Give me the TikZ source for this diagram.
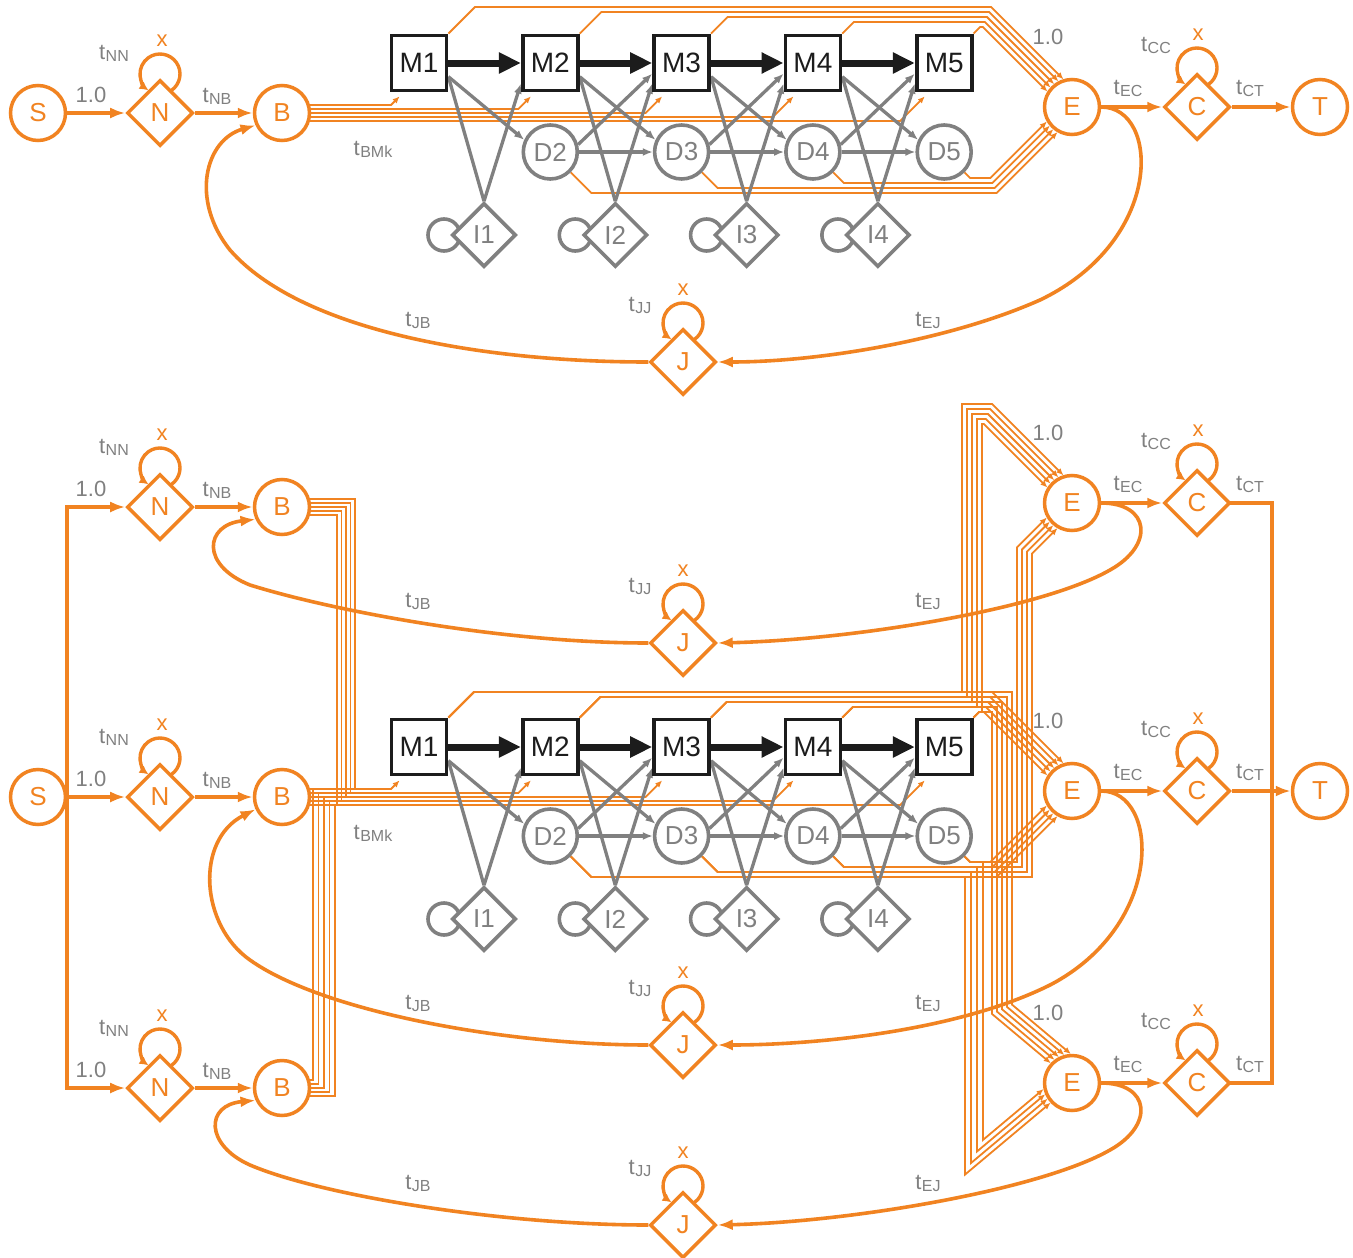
\documentclass[tikz,border=0pt]{standalone}
\usepackage{fontspec}
\setmainfont{Liberation Sans}
\usetikzlibrary{shapes.geometric,arrows.meta,calc}

\definecolor{orng}{RGB}{241,131,33}
\definecolor{gry}{RGB}{128,128,128}
\definecolor{lblgry}{RGB}{128,128,128}
\definecolor{inkblk}{RGB}{28,28,28}

\pgfdeclarelayer{bg}
\pgfdeclarelayer{bundles}
\pgfdeclarelayer{curves}
\pgfdeclarelayer{edges}
\pgfsetlayers{bg,bundles,curves,edges,main}

\newcommand\fs[1]{\fontsize{#1}{#1}\selectfont}
\newcommand\tlab[1]{t\kern0.4pt\raisebox{-2pt}{\fs{16}#1}}
\newcommand\bR{29}

\tikzset{
  x=1pt, y=-1pt,
  onode/.style={draw=orng, line width=3.5pt, fill=white, text=orng, font=\fs{26}, inner sep=0pt, outer sep=1.75pt},
  ocirc/.style={onode, circle, minimum size=55pt},
  odiam/.style={onode, diamond, aspect=1, minimum size=66pt},
  gcirc/.style={circle, draw=gry, line width=3.6pt, fill=white, text=gry, font=\fs{26}, minimum size=54pt, inner sep=0pt, outer sep=1.8pt},
  gdiam/.style={diamond, aspect=1, draw=gry, line width=3.6pt, fill=white, text=gry, font=\fs{26}, minimum size=64pt, inner sep=0pt, outer sep=1.8pt},
  mbox/.style={rectangle, draw=inkblk, line width=3.8pt, fill=white, text=inkblk, font=\fs{28}, minimum size=55pt, inner sep=0pt, outer sep=1.9pt},
  lbl/.style={text=lblgry, font=\fs{22}, inner sep=0pt},
  xlbl/.style={text=orng, font=\fs{22}, inner sep=0pt},
  oarrow/.style={draw=orng, line width=3.4pt, -{Latex[length=15pt,width=11pt]}},
  oline/.style={draw=orng, line width=3.4pt, line cap=rect, line join=miter},
  ocurve/.style={draw=orng, line width=3.6pt, -{Latex[length=15pt,width=11pt]}},
  oloop/.style={draw=orng, line width=3.4pt, -{Latex[length=9pt,width=9pt]}},
  gedge/.style={draw=gry, line width=3.3pt, -{Latex[length=10pt,width=8pt]}},
  gplain/.style={draw=gry, line width=3.3pt},
  gloop/.style={draw=gry, line width=3.6pt},
  barrow/.style={draw=inkblk, line width=7pt, -{Triangle[length=22pt,width=20pt]}},
  thinb/.style={draw=orng, line width=1.8pt, line join=miter},
  thinba/.style={thinb, -{Latex[length=7pt,width=6pt]}},
}

% parallel line of a bundle: aim x, aim y, centre x, centre y, angle, offset
% gives the line point \bPx,\bPy, direction \bdx,\bdy and the entry point \bQx,\bQy (relative to the centre)
\newcommand\bundlecalc[6]{%
  \pgfmathsetmacro\bdx{cos(#5)}%
  \pgfmathsetmacro\bdy{sin(#5)}%
  \pgfmathsetmacro\bPx{(#1)+(\bdy)*(#6)}%
  \pgfmathsetmacro\bPy{(#2)-(\bdx)*(#6)}%
  \pgfmathsetmacro\bwx{(\bPx)-(#3)}%
  \pgfmathsetmacro\bwy{(\bPy)-(#4)}%
  \pgfmathsetmacro\bwd{(\bwx)*(\bdx)+(\bwy)*(\bdy)}%
  \pgfmathsetmacro\bt{0-(\bwd)-sqrt((\bwd)*(\bwd)-(\bwx)*(\bwx)-(\bwy)*(\bwy)+\bR*\bR)}%
  \pgfmathsetmacro\bQx{(\bwx)+(\bt)*(\bdx)}%
  \pgfmathsetmacro\bQy{(\bwy)+(\bt)*(\bdy)}%
}

% machines, dependent and idle states of one production line
\newcommand\procblock[2]{%
  \foreach \kk/\xx in {1/419,2/550.3,3/681.6,4/812.9,5/944.2}
    {\node[mbox] (#1M\kk) at (\xx,#2) {M\kk};}
  \foreach \kk/\xx in {2/550.3,3/681.6,4/812.9,5/944.2}
    {\node[gcirc] (#1D\kk) at (\xx,{#2+89}) {D\kk};}
  \foreach \kk/\xx in {1/484,2/615.3,3/746.6,4/877.9}
    {\node[gdiam] (#1I\kk) at (\xx,{#2+172}) {I\kk};}
  \begin{pgfonlayer}{edges}
    \foreach \kk in {1,...,4} {
      \pgfmathtruncatemacro\knext{\kk+1}
      \draw[barrow] (#1M\kk.east) -- (#1M\knext.west);
      \draw[gedge] (#1M\kk.-25) -- (#1D\knext.155);
      \draw[gplain] (#1M\kk.-25) -- (#1I\kk.north);
      \draw[gedge] (#1I\kk.north) -- (#1M\knext.215);
      \draw[gloop] ($(#1I\kk)+(-40,0)$) circle[radius=16];
    }
    \foreach \kk in {2,3,4} {
      \pgfmathtruncatemacro\knext{\kk+1}
      \draw[gedge] (#1D\kk.15) -- (#1M\knext.200);
      \draw[gedge] (#1D\kk.east) -- (#1D\knext.west);
    }
  \end{pgfonlayer}
}

% start, end and junction states with their labels
\newcommand\sidechain[4]{%
  \node[odiam] (#1N) at (160,#2) {N};
  \node[ocirc] (#1B) at (282,#2) {B};
  \node[ocirc] (#1E) at (1072,#3) {E};
  \node[odiam] (#1C) at (1197,#3) {C};
  \node[odiam] (#1J) at (683,#4) {J};
  \node[lbl] (#1lnn) at (114,{#2-60}) {\tlab{NN}};
  \node[xlbl] (#1xn) at (162,{#2-72}) {x};
  \node[lbl] (#1lsn) at (91,{#2-18}) {1.0};
  \node[lbl] (#1lnb) at (217,{#2-17}) {\tlab{NB}};
  \node[lbl] (#1lme) at (1048,{#3-70}) {1.0};
  \node[lbl] (#1lcc) at (1156,{#3-62}) {\tlab{CC}};
  \node[xlbl] (#1xc) at (1198,{#3-72}) {x};
  \node[lbl] (#1lec) at (1128,{#3-19}) {\tlab{EC}};
  \node[lbl] (#1lct) at (1250,{#3-19}) {\tlab{CT}};
  \node[lbl] (#1ljj) at (640,{#4-57}) {\tlab{JJ}};
  \node[xlbl] (#1xj) at (683,{#4-72}) {x};
  \node[lbl] (#1ljb) at (418,{#4-42}) {\tlab{JB}};
  \node[lbl] (#1lej) at (928,{#4-42}) {\tlab{EJ}};
  \begin{pgfonlayer}{edges}
    \draw[oarrow] (#1N) -- (#1B);
    \draw[oarrow] (#1E) -- (#1C);
    \foreach \nd in {#1N,#1C,#1J} {
      \draw[oloop] ($(\nd)+({20*cos(55)},{-39+20*sin(55)})$) arc[start angle=55,end angle=-235,radius=20];
    }
  \end{pgfonlayer}
}

% B -> Mk feeders
\newcommand\bmlines[2]{%
  \foreach \kk in {0,...,4} {
    \pgfmathtruncatemacro\mm{\kk+1}
    \pgfmathsetmacro\dd{8.6+4*\kk}
    \coordinate (bmc) at ($(#1M\mm.south west)+({10-\dd},{4+\dd})$);
    \draw[thinba] (bmc -| #2) -- (bmc) -- ($(#1M\mm.south west)+(10,4)$);
  }
}

% Mk -> E, straight across the top
\newcommand\mtoE[6]{%
  \foreach \kk in {0,...,4} {
    \pgfmathtruncatemacro\mm{\kk+1}
    \pgfmathsetmacro\oo{(2-\kk)*5}
    \pgfmathsetmacro\hh{#5+5*\kk}
    \pgfmathsetmacro\qa{#6-\hh}
    \bundlecalc{#3+5}{#4}{#3}{#4}{45}{\oo}
    \pgfmathsetmacro\cx{(\bPx)+((\hh)-(\bPy))/(\bdy)*(\bdx)}
    \draw[thinba] (#1M\mm.north east) -- ++(\qa,-\qa) -- (\cx,\hh) -- ($(#2)+(\bQx,\bQy)$);
  }
}

% Dk -> E, straight along the bottom
\newcommand\dtoE[6]{%
  \foreach \kk in {0,...,3} {
    \pgfmathtruncatemacro\mm{\kk+2}
    \pgfmathsetmacro\oo{-7.5+5*\kk}
    \pgfmathsetmacro\hh{#5-5*\kk}
    \pgfmathsetmacro\qb{\hh-#6}
    \bundlecalc{#3}{#4}{#3}{#4}{-45}{\oo}
    \pgfmathsetmacro\cx{(\bPx)+((\hh)-(\bPy))/(\bdy)*(\bdx)}
    \draw[thinba] (#1D\mm.-45) -- ++(\qb,\qb) -- (\cx,\hh) -- ($(#2)+(\bQx,\bQy)$);
  }
}

\begin{document}
\begin{tikzpicture}
\begin{pgfonlayer}{bg}
  \fill[white] (0,0) rectangle (1353,1258);
\end{pgfonlayer}
\useasboundingbox (0,0) rectangle (1353,1258);

% ---------- single line ----------
\node[ocirc] (tS) at (38,113) {S};
\sidechain{t}{113}{107}{362}
\node[ocirc] (tT) at (1320,107) {T};
\procblock{t}{63}
\node[lbl] (tbmk) at (373,149) {\tlab{BMk}};

% ---------- three coupled lines ----------
\node[ocirc] (bS) at (38,797) {S};
\sidechain{r1}{507}{503}{643}
\sidechain{r2}{797}{791}{1045}
\sidechain{r3}{1088}{1083}{1225}
\node[ocirc] (bT) at (1320,791) {T};
\procblock{b}{747}
\node[lbl] (bbmk) at (373,833) {\tlab{BMk}};

\coordinate (sv1) at (67,507);
\coordinate (sv3) at (67,1088);
\coordinate (tv1) at (1272,503);
\coordinate (tv3) at (1272,1083);

\begin{pgfonlayer}{edges}
  \draw[oarrow] (tS) -- (tN);
  \draw[oarrow] (tC) -- (tT);
  \draw[oline] (sv1) -- (sv3);
  \draw[oarrow] (sv1) -- (r1N);
  \draw[oarrow] (bS) -- (r2N);
  \draw[oarrow] (sv3) -- (r3N);
  \draw[oline] (r1C) -- (tv1) -- (tv3) -- (r3C);
  \draw[oarrow] (r2C) -- (bT);
\end{pgfonlayer}

\begin{pgfonlayer}{curves}
  \draw[ocurve] (tE.east) .. controls (1160,107) and (1165,240) .. (1040,300)
                .. controls (950,340) and (820,362) .. (tJ.east);
  \draw[ocurve] (tJ.west) .. controls (480,362) and (300,330) .. (230,250)
                .. controls (190,200) and (205,140) .. (tB.205);
  \draw[ocurve] (r1E.east) .. controls (1150,503) and (1155,545) .. (1110,570)
                .. controls (1040,610) and (850,640) .. (r1J.east);
  \draw[ocurve] (r1J.west) .. controls (500,643) and (330,610) .. (250,585)
                .. controls (200,565) and (205,525) .. (r1B.205);
  \draw[ocurve] (r2E.east) .. controls (1160,791) and (1165,925) .. (1050,985)
                .. controls (960,1030) and (820,1045) .. (r2J.east);
  \draw[ocurve] (r2J.west) .. controls (500,1045) and (320,1010) .. (250,960)
                .. controls (200,925) and (195,840) .. (r2B.205);
  \draw[ocurve] (r3E.east) .. controls (1150,1083) and (1155,1125) .. (1110,1150)
                .. controls (1040,1190) and (850,1222) .. (r3J.east);
  \draw[ocurve] (r3J.west) .. controls (500,1225) and (320,1195) .. (250,1165)
                .. controls (205,1145) and (205,1105) .. (r3B.205);
\end{pgfonlayer}

\begin{pgfonlayer}{bundles}
  \bmlines{t}{tB}
  \mtoE{t}{tE}{1072}{107}{7}{33.6}
  \dtoE{t}{tE}{1072}{107}{193}{172.3}
  \bmlines{b}{r2B}
  \mtoE{b}{r2E}{1072}{791}{692}{717.6}
  \dtoE{b}{r2E}{1072}{791}{877}{856.3}
  % feeders from the upper and lower B
  \foreach \kk in {0,...,4} {
    \pgfmathsetmacro\yo{-8+4*\kk}
    \pgfmathsetmacro\xa{355-4.5*\kk}
    \pgfmathsetmacro\ya{499+4*\kk}
    \pgfmathsetmacro\yb{789+4*\kk}
    \pgfmathsetmacro\xc{313+5.5*\kk}
    \pgfmathsetmacro\yc{1080+4*\kk}
    \draw[thinb] ($(r1B)+(0,\yo)$) -- (\xa,\ya) -- (\xa,\yb) -- (365,\yb);
    \draw[thinb] ($(r3B)+(0,\yo)$) -- (\xc,\yc) -- (\xc,\yb) -- (365,\yb);
  }
  % Mk -> upper E
  \foreach \kk in {0,...,4} {
    \pgfmathtruncatemacro\mm{\kk+1}
    \pgfmathsetmacro\oo{(2-\kk)*5}
    \pgfmathsetmacro\hh{692+5*\kk}
    \pgfmathsetmacro\qa{717.6-\hh}
    \pgfmathsetmacro\vv{962+5*\kk}
    \pgfmathsetmacro\hu{404+5*\kk}
    \bundlecalc{1077}{503}{1072}{503}{45}{\oo}
    \pgfmathsetmacro\cx{(\bPx)+((\hu)-(\bPy))/(\bdy)*(\bdx)}
    \draw[thinba] (bM\mm.north east) -- ++(\qa,-\qa) -- (\vv,\hh) -- (\vv,\hu) -- (\cx,\hu) -- ($(r1E)+(\bQx,\bQy)$);
  }
  % Mk -> lower E
  \foreach \kk in {0,...,4} {
    \pgfmathtruncatemacro\mm{\kk+1}
    \pgfmathsetmacro\oo{(2-\kk)*5}
    \pgfmathsetmacro\hh{692+5*\kk}
    \pgfmathsetmacro\qa{717.6-\hh}
    \pgfmathsetmacro\vv{1012-5*\kk}
    \bundlecalc{1072}{1068}{1072}{1083}{40}{\oo}
    \pgfmathsetmacro\cy{(\bPy)+((\vv)-(\bPx))/(\bdx)*(\bdy)}
    \draw[thinba] (bM\mm.north east) -- ++(\qa,-\qa) -- (\vv,\hh) -- (\vv,\cy) -- ($(r3E)+(\bQx,\bQy)$);
  }
  % Dk -> upper E
  \foreach \kk in {0,...,3} {
    \pgfmathtruncatemacro\mm{\kk+2}
    \pgfmathsetmacro\oo{-7.5+5*\kk}
    \pgfmathsetmacro\hh{877-5*\kk}
    \pgfmathsetmacro\qb{\hh-856.3}
    \pgfmathsetmacro\vv{1032-5*\kk}
    \bundlecalc{1072}{503}{1072}{503}{-45}{\oo}
    \pgfmathsetmacro\cy{(\bPy)+((\vv)-(\bPx))/(\bdx)*(\bdy)}
    \draw[thinba] (bD\mm.-45) -- ++(\qb,\qb) -- (\vv,\hh) -- (\vv,\cy) -- ($(r1E)+(\bQx,\bQy)$);
  }
  % Dk -> lower E
  \foreach \kk in {0,...,3} {
    \pgfmathtruncatemacro\mm{\kk+2}
    \pgfmathsetmacro\oo{-7.5+5*\kk}
    \pgfmathsetmacro\hh{877-5*\kk}
    \pgfmathsetmacro\qb{\hh-856.3}
    \pgfmathsetmacro\vv{965+6*\kk}
    \bundlecalc{1072}{1075}{1072}{1083}{-40}{\oo}
    \pgfmathsetmacro\cy{(\bPy)+((\vv)-(\bPx))/(\bdx)*(\bdy)}
    \draw[thinba] (bD\mm.-45) -- ++(\qb,\qb) -- (\vv,\hh) -- (\vv,\cy) -- ($(r3E)+(\bQx,\bQy)$);
  }
\end{pgfonlayer}
\end{tikzpicture}
\end{document}
